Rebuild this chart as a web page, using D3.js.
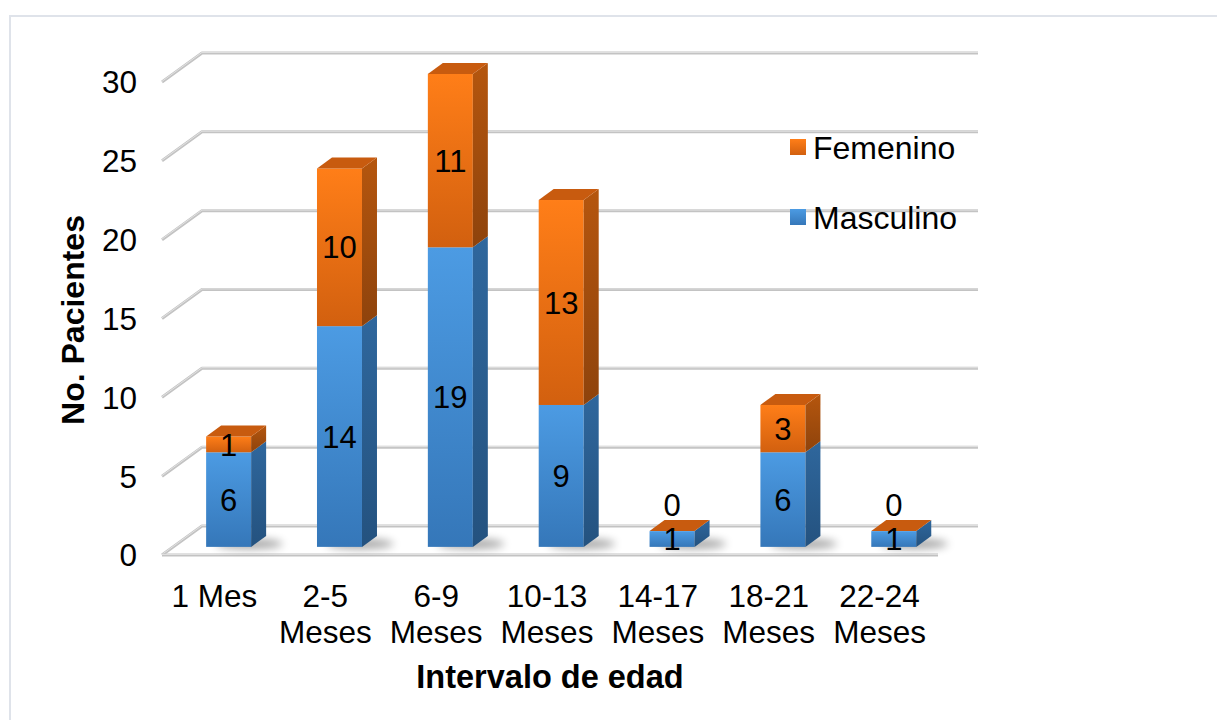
<!DOCTYPE html>
<html>
<head>
<meta charset="utf-8">
<script src="https://cdn.jsdelivr.net/npm/d3@7"></script>
<style>
  html, body { margin: 0; padding: 0; background: #ffffff; }
  svg { display: block; }
  text { font-family: "Liberation Sans", Arial, sans-serif; fill: #000; }
</style>
</head>
<body>
<svg id="chart" width="1217" height="720"></svg>
<script>
// Age intervals (two-line labels) and patient counts by sex
const categories = ["1 Mes", "2-5 Meses", "6-9 Meses", "10-13 Meses", "14-17 Meses", "18-21 Meses", "22-24 Meses"];
const categoryLines = [["1 Mes"], ["2-5", "Meses"], ["6-9", "Meses"], ["10-13", "Meses"], ["14-17", "Meses"], ["18-21", "Meses"], ["22-24", "Meses"]];
const masculino = [6, 14, 19, 9, 1, 6, 1];
const femenino = [1, 10, 11, 13, 0, 3, 0];
const yTicks = [0, 5, 10, 15, 20, 25, 30];
const seriesNames = ["Masculino", "Femenino"];

const svg = d3.select("#chart");

// outer frame of the chart area
svg.append("path")
  .attr("d", "M10,722 L10,16 L1219,16")
  .attr("fill", "none")
  .attr("stroke", "#dfe3ea")
  .attr("stroke-width", 2);

// front plane scales; the back wall is the same plane shifted by depth
const x = d3.scaleBand().domain(categories).range([162, 938]).paddingInner(0).paddingOuter(0);
const y = d3.scaleLinear().domain([0, 30]).range([555, 82]);
const depth = { dx: 40, dy: -29 };

// gradients
const defs = svg.append("defs");
function vGrad(id, top, bottom) {
  const g = defs.append("linearGradient").attr("id", id)
    .attr("x1", 0).attr("y1", 0).attr("x2", 0).attr("y2", 1);
  g.append("stop").attr("offset", "0%").attr("stop-color", top);
  g.append("stop").attr("offset", "100%").attr("stop-color", bottom);
}
vGrad("blueFront", "#4c9be3", "#3577b9");
vGrad("blueSide", "#2f679d", "#24527f");
vGrad("orangeFront", "#ff7e18", "#d2600f");
vGrad("orangeSide", "#b5560e", "#8e430c");
const shadow = defs.append("filter").attr("id", "soft").attr("x", "-50%").attr("y", "-200%").attr("width", "200%").attr("height", "500%");
shadow.append("feGaussianBlur").attr("stdDeviation", 4);

// gridlines: left wall diagonal + back wall horizontal
const grid = svg.append("g");
yTicks.forEach(v => {
  const yf = y(v), yb = y(v) + depth.dy;
  const xl = x.range()[0], xr = x.range()[1];
  const d = `M${xl},${yf} L${xl + depth.dx},${yb} L${xr + depth.dx},${yb}`;
  grid.append("path").attr("d", d).attr("fill", "none")
    .attr("stroke", "#c3c3c3").attr("stroke-width", 3).attr("stroke-linejoin", "round");
  grid.append("path").attr("d", d).attr("fill", "none")
    .attr("stroke", "#e2e2e2").attr("stroke-width", 1).attr("transform", "translate(0,-0.6)");
});
// floor front edge
grid.append("path")
  .attr("d", `M${x.range()[0]},${y(0)} L${x.range()[1]},${y(0)}`)
  .attr("stroke", "#c3c3c3").attr("stroke-width", 3);
grid.append("path")
  .attr("d", `M${x.range()[0]},${y(0) - 0.6} L${x.range()[1]},${y(0) - 0.6}`)
  .attr("stroke", "#e2e2e2").attr("stroke-width", 1);

// bar geometry within the depth of the box
const faceFrac = 0.28;          // front face position between front and back
const barDepth = { dx: 15, dy: -11 };
const barW = 45;
const fx = faceFrac * depth.dx, fy = faceFrac * depth.dy;

const bars = categories.map((c, i) => {
  const cx = x(c) + x.bandwidth() / 2 + fx;
  return { c, i, x0: cx - barW / 2, x1: cx + barW / 2, m: masculino[i], f: femenino[i] };
});

// soft floor shadows
const shadows = svg.append("g");
bars.forEach(b => {
  shadows.append("ellipse")
    .attr("cx", b.x1 - 2).attr("cy", y(0) + fy - 3)
    .attr("rx", barW * 0.75).attr("ry", 5)
    .attr("fill", "#000").attr("opacity", 0.35)
    .attr("filter", "url(#soft)");
});

const barG = svg.append("g");
function segment(b, v0, v1, front, side) {
  const yb = y(v0) + fy, yt = y(v1) + fy;
  const g = barG.append("g");
  if (yb - yt > 0.01) {
    g.append("rect").attr("x", b.x0).attr("y", yt).attr("width", b.x1 - b.x0).attr("height", yb - yt)
      .attr("fill", `url(#${front})`);
    g.append("path")
      .attr("d", `M${b.x1},${yb} L${b.x1 + barDepth.dx},${yb + barDepth.dy} L${b.x1 + barDepth.dx},${yt + barDepth.dy} L${b.x1},${yt} Z`)
      .attr("fill", `url(#${side})`);
  }
}
bars.forEach(b => {
  segment(b, 0, b.m, "blueFront", "blueSide");
  segment(b, b.m, b.m + b.f, "orangeFront", "orangeSide");
  // top face
  const yt = y(b.m + b.f) + fy;
  barG.append("path")
    .attr("d", `M${b.x0},${yt} L${b.x0 + barDepth.dx},${yt + barDepth.dy} L${b.x1 + barDepth.dx},${yt + barDepth.dy} L${b.x1},${yt} Z`)
    .attr("fill", "#c85b0f");
});

// value labels; an empty segment gets its label lifted above the bar top
const labelG = svg.append("g").attr("font-size", 31).attr("text-anchor", "middle");
bars.forEach(b => {
  const cx = (b.x0 + b.x1) / 2;
  const segs = [[0, b.m], [b.m, b.m + b.f]];
  segs.forEach(([v0, v1]) => {
    let cy = (y(v0) + y(v1)) / 2 + fy;
    if (v1 - v0 === 0) cy -= 26;
    labelG.append("text").attr("x", cx).attr("y", cy).attr("dy", "0.36em").text(v1 - v0);
  });
});

// y axis tick labels
const yAxisG = svg.append("g").attr("font-size", 31.5).attr("text-anchor", "end");
yTicks.forEach(v => {
  yAxisG.append("text").attr("x", 137).attr("y", y(v)).attr("dy", "0.36em").text(v);
});

// category labels
const xAxisG = svg.append("g").attr("font-size", 31.5).attr("text-anchor", "middle");
categories.forEach((c, i) => {
  const cx = x(c) + x.bandwidth() / 2 - 3;
  const t = xAxisG.append("text").attr("x", cx).attr("y", 607);
  categoryLines[i].forEach((line, k) => {
    t.append("tspan").attr("x", cx).attr("dy", k === 0 ? 0 : 36).text(line);
  });
});

// axis titles
svg.append("text").attr("x", 550).attr("y", 688).attr("text-anchor", "middle")
  .attr("font-size", 32.5).attr("font-weight", "bold").text("Intervalo de edad");
svg.append("text").attr("transform", "translate(84,320) rotate(-90)").attr("text-anchor", "middle")
  .attr("font-size", 32).attr("font-weight", "bold").text("No. Pacientes");

// legend
const legend = svg.append("g").attr("font-size", 32);
const legendItems = [
  { name: seriesNames[1], fill: "url(#orangeFront)", y: 147 },
  { name: seriesNames[0], fill: "url(#blueFront)", y: 217 }
];
legendItems.forEach(it => {
  legend.append("rect").attr("x", 790).attr("y", it.y - 8).attr("width", 16).attr("height", 16).attr("fill", it.fill);
  legend.append("text").attr("x", 813).attr("y", it.y).attr("dy", "0.36em").text(it.name);
});
</script>
</body>
</html>
